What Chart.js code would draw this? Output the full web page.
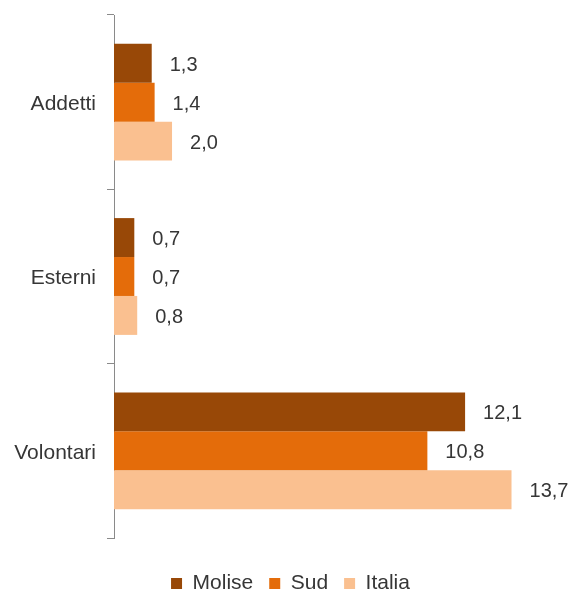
<!DOCTYPE html>
<html>
<head>
<meta charset="utf-8">
<script src="https://cdn.jsdelivr.net/npm/chart.js@4/dist/chart.umd.min.js"></script>
<style>
  html, body { margin: 0; padding: 0; background: #fff; }
  #wrap { width: 571px; height: 594px; position: relative; }
</style>
</head>
<body>
<div id="wrap"><canvas id="c"></canvas></div>
<script>
// Categorie e serie (valori per 100 abitanti)
const categories = ['Addetti', 'Esterni', 'Volontari'];
const seriesNames = ['Molise', 'Sud', 'Italia'];
const molise = [1.3, 0.7, 12.1];
const sud = [1.4, 0.7, 10.8];
const italia = [2.0, 0.8, 13.7];
const seriesColors = ['#984807', '#E46C0A', '#FAC090'];

const FONT = '"Liberation Sans", Arial, sans-serif';
const TEXT = '#363636';
const PAD_LEFT = 10;

// Etichette con il valore accanto alla fine di ogni barra
const valueLabels = {
  id: 'valueLabels',
  afterDatasetsDraw(chart) {
    const ctx = chart.ctx;
    ctx.save();
    ctx.font = '20px ' + FONT;
    ctx.fillStyle = TEXT;
    ctx.textAlign = 'left';
    ctx.textBaseline = 'middle';
    chart.data.datasets.forEach((ds, i) => {
      chart.getDatasetMeta(i).data.forEach((bar, j) => {
        const txt = ds.data[j].toFixed(1).replace('.', ',');
        ctx.fillText(txt, bar.x + 18, bar.y + 2);
      });
    });
    ctx.restore();
  }
};

// La legenda non aggiunge il margine fisso di 10px sotto le voci
const tightLegend = {
  id: 'tightLegend',
  beforeLayout(chart) {
    const lg = chart.legend;
    if (lg && !lg._tightFit) {
      const fit = lg.fit.bind(lg);
      lg.fit = function () { fit(); this.height -= 10; };
      lg._tightFit = true;
    }
  }
};

new Chart(document.getElementById('c'), {
  type: 'bar',
  data: {
    labels: categories,
    datasets: [
      { label: seriesNames[0], data: molise, backgroundColor: seriesColors[0] },
      { label: seriesNames[1], data: sud, backgroundColor: seriesColors[1] },
      { label: seriesNames[2], data: italia, backgroundColor: seriesColors[2] }
    ]
  },
  options: {
    indexAxis: 'y',
    responsive: true,
    maintainAspectRatio: false,
    animation: false,
    layout: { padding: { top: 15, right: 0, left: PAD_LEFT, bottom: 0 } },
    datasets: { bar: { categoryPercentage: 0.67, barPercentage: 1.0 } },
    scales: {
      x: { display: false, min: 0, max: 15.75 },
      y: {
        afterFit(scale) {
          scale.width = 114 - PAD_LEFT;
          scale.paddingTop = 0;
          scale.paddingBottom = 0;
        },
        border: { display: true, color: '#8a8a8a', width: 1 },
        grid: { display: true, drawOnChartArea: false, drawTicks: true, tickLength: 7, color: '#8a8a8a', offset: true },
        ticks: { color: TEXT, padding: 11, labelOffset: 2, font: { family: FONT, size: 21 } }
      }
    },
    plugins: {
      legend: {
        position: 'bottom',
        title: { display: true, text: '', padding: 0, font: { family: FONT, size: 19, lineHeight: 1 } },
        labels: {
          boxWidth: 11, boxHeight: 11, padding: 16, color: TEXT,
          font: { family: FONT, size: 21 }
        }
      },
      tooltip: { enabled: false }
    }
  },
  plugins: [valueLabels, tightLegend]
});
</script>
</body>
</html>
